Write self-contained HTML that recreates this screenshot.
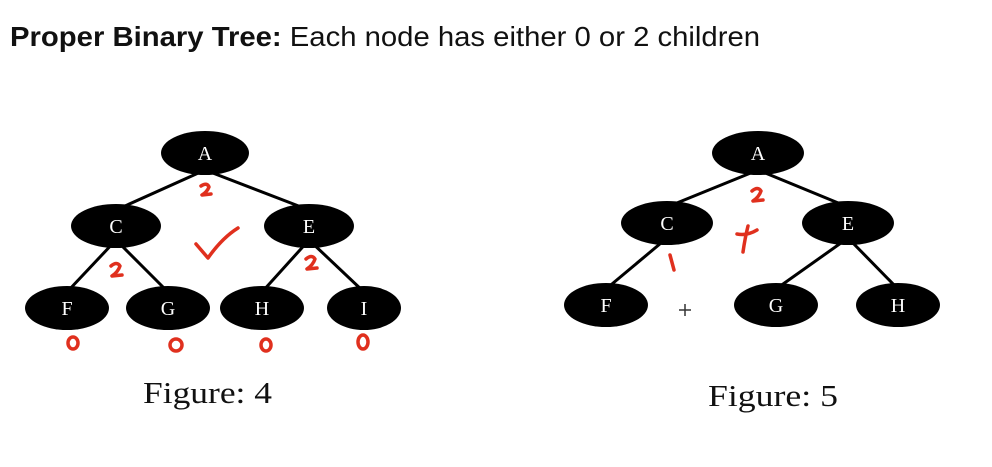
<!DOCTYPE html>
<html><head><meta charset="utf-8"><style>
body{margin:0;background:#fff;width:992px;height:462px;overflow:hidden}
</style></head><body>
<svg width="992" height="462" viewBox="0 0 992 462" xmlns="http://www.w3.org/2000/svg">
<text x="10" y="46" font-family="Liberation Sans, sans-serif" font-size="28" fill="#111" textLength="750" lengthAdjust="spacingAndGlyphs"><tspan font-weight="bold">Proper Binary Tree:</tspan> Each node has either 0 or 2 children</text>
<g stroke="#000" stroke-width="3">
<line x1="205" y1="170" x2="116" y2="210"/><line x1="205" y1="170" x2="309" y2="210"/>
<line x1="116" y1="240" x2="67" y2="292"/><line x1="116" y1="240" x2="168" y2="292"/>
<line x1="309" y1="240" x2="262" y2="292"/><line x1="309" y1="240" x2="364" y2="292"/>
</g>
<g stroke="#000" stroke-width="3">
<line x1="758" y1="170" x2="667" y2="207"/><line x1="758" y1="170" x2="848" y2="207"/>
<line x1="667" y1="238" x2="606" y2="289"/>
<line x1="848" y1="238" x2="776" y2="289"/><line x1="848" y1="238" x2="898" y2="289"/>
</g>
<g font-family="Liberation Serif, serif" font-size="20" fill="#fff" text-anchor="middle">
<g><ellipse cx="205" cy="153" rx="44" ry="22" fill="#000"/><text x="205" y="160">A</text></g>
<g><ellipse cx="116" cy="226" rx="45" ry="22" fill="#000"/><text x="116" y="233">C</text></g>
<g><ellipse cx="309" cy="226" rx="45" ry="22" fill="#000"/><text x="309" y="233">E</text></g>
<g><ellipse cx="67" cy="308" rx="42" ry="22" fill="#000"/><text x="67" y="315">F</text></g>
<g><ellipse cx="168" cy="308" rx="42" ry="22" fill="#000"/><text x="168" y="315">G</text></g>
<g><ellipse cx="262" cy="308" rx="42" ry="22" fill="#000"/><text x="262" y="315">H</text></g>
<g><ellipse cx="364" cy="308" rx="37" ry="22" fill="#000"/><text x="364" y="315">I</text></g>
<g><ellipse cx="758" cy="153" rx="46" ry="22" fill="#000"/><text x="758" y="160">A</text></g>
<g><ellipse cx="667" cy="223" rx="46" ry="22" fill="#000"/><text x="667" y="230">C</text></g>
<g><ellipse cx="848" cy="223" rx="46" ry="22" fill="#000"/><text x="848" y="230">E</text></g>
<g><ellipse cx="606" cy="305" rx="42" ry="22" fill="#000"/><text x="606" y="312">F</text></g>
<g><ellipse cx="776" cy="305" rx="42" ry="22" fill="#000"/><text x="776" y="312">G</text></g>
<g><ellipse cx="898" cy="305" rx="42" ry="22" fill="#000"/><text x="898" y="312">H</text></g>
</g>
<g font-family="Liberation Serif, serif" font-size="31" fill="#111">
<text x="143" y="403" textLength="129" lengthAdjust="spacingAndGlyphs">Figure: 4</text>
<text x="708" y="406" textLength="130" lengthAdjust="spacingAndGlyphs">Figure: 5</text>
</g>
<g fill="none" stroke="#e0301e" stroke-width="3.5" stroke-linecap="round" stroke-linejoin="round">
<path d="M201 186 q6 -4 8 1 q-2 5 -7 8 l9 -1" />
<path d="M196 244 l12 14 q14 -20 30 -30" />
<path d="M111 266 q6 -5 9 0 q-2 6 -8 10 l10 -1" />
<path d="M306 259 q6 -5 9 0 q-2 6 -8 10 l10 -1" />
<ellipse cx="73" cy="343" rx="5" ry="6"/>
<ellipse cx="176" cy="345" rx="6" ry="6"/>
<ellipse cx="266" cy="345" rx="5" ry="6"/>
<ellipse cx="363" cy="342" rx="5" ry="7"/>
<path d="M752 191 q6 -5 9 0 q-2 6 -8 10 l10 -1" />
<path d="M670 255 l4 15" />
<path d="M737 234 q10 2 20 -4 M748 226 q-3 12 -5 26" />
</g>
<g stroke="#333" stroke-width="1.5">
<line x1="679" y1="310" x2="691" y2="310"/><line x1="685" y1="304" x2="685" y2="316"/>
</g>
</svg>
</body></html>
